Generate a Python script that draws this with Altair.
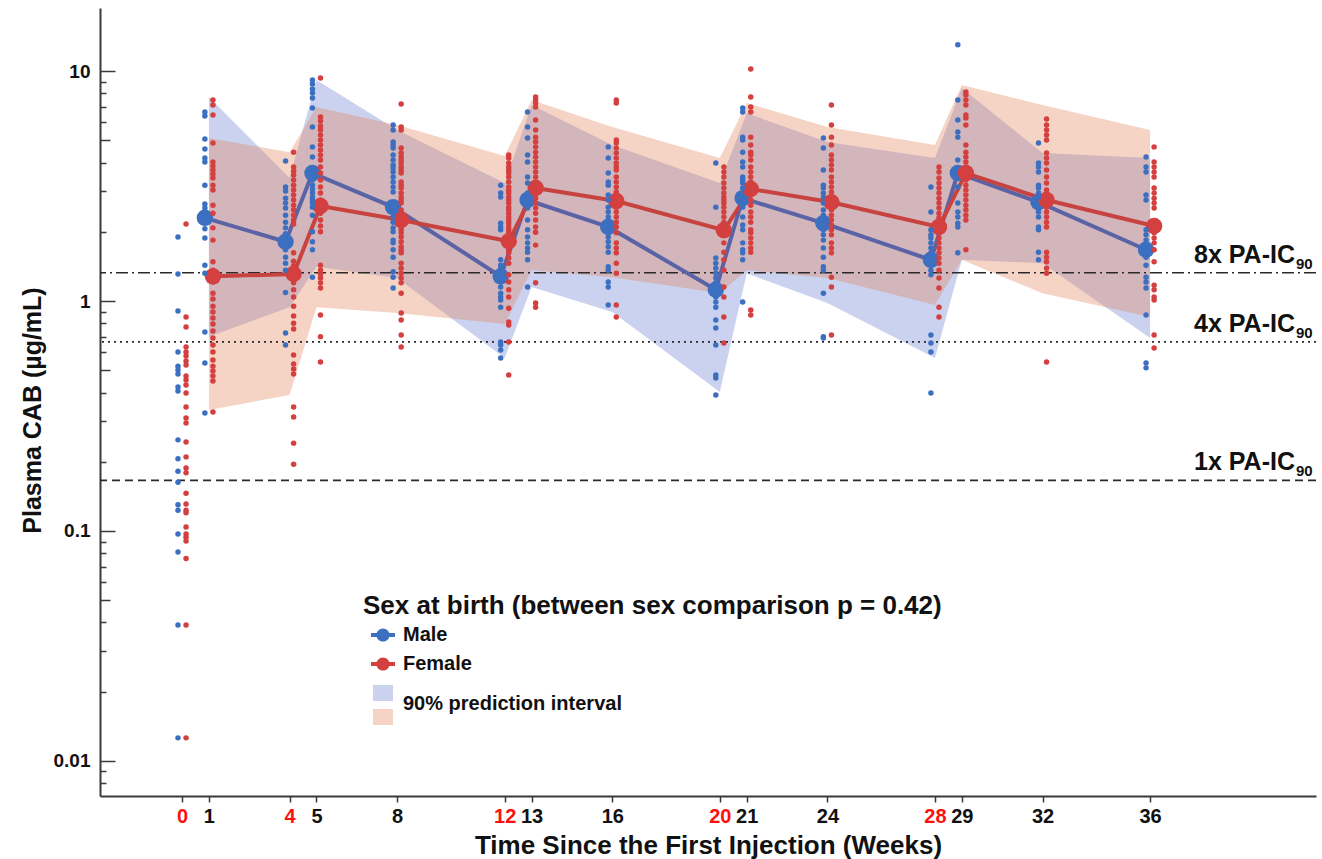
import altair as alt
import pandas as pd

# ------------------------------------------------------------------ data
weeks_obs = [0, 1, 4, 5, 8, 12, 13, 16, 20, 21, 24, 28, 29, 32, 36]

male_w0 = [1.90, 1.31, 0.905, 0.60, 0.521, 0.501, 0.482, 0.423, 0.406, 0.249, 0.206, 0.182, 0.163, 0.130, 0.123, 0.097, 0.081, 0.039, 0.0126]
female_w0 = [2.16, 0.852, 0.771, 0.631, 0.60, 0.577, 0.548, 0.527, 0.472, 0.454, 0.431, 0.398, 0.346, 0.310, 0.295, 0.244, 0.210, 0.188, 0.179, 0.146, 0.131, 0.123, 0.120, 0.104, 0.097, 0.094, 0.0905, 0.076, 0.039, 0.0126]
male_w1 = [6.63, 6.37, 5.06, 4.58, 4.19, 4.02, 3.19, 2.64, 2.54, 2.41, 2.2, 2.06, 1.88, 1.43, 1.32, 0.733, 0.537, 0.326]
female_w1 = [7.48, 7.11, 6.44, 4.86, 4.02, 3.86, 3.71, 3.57, 3.43, 3.19, 3.04, 2.61, 2.41, 2.08, 1.84, 1.48, 1.36, 1.21, 1.08, 1.02, 0.95, 0.896, 0.844, 0.794, 0.741, 0.69, 0.644, 0.60, 0.554, 0.521, 0.496, 0.472, 0.449, 0.329]
male_w4 = [4.06, 3.13, 3.01, 2.80, 2.67, 2.54, 2.36, 2.2, 2.08, 1.96, 1.67, 1.55, 1.46, 1.36, 1.09, 0.726, 0.644]
female_w4 = [4.44, 3.83, 3.67, 3.53, 3.36, 3.19, 3.04, 2.89, 2.75, 2.61, 2.49, 2.36, 2.25, 2.16, 1.62, 1.49, 1.42, 1.35, 1.2, 1.12, 1.04, 0.95, 0.86, 0.80, 0.755, 0.582, 0.532, 0.506, 0.482, 0.346, 0.313, 0.241, 0.195]
male_w5 = [9.14, 8.78, 8.35, 8.02, 7.63, 6.9, 5.71, 4.68, 4.23, 3.36, 3.19, 3.07, 2.95, 2.83, 2.75, 2.67, 2.56, 2.36, 2.0, 1.81, 1.67, 1.27]
female_w5 = [9.33, 6.31, 6.06, 5.77, 5.54, 5.27, 5.01, 4.77, 4.54, 4.31, 4.10, 3.83, 3.60, 3.36, 3.13, 2.95, 2.75, 2.41, 2.25, 2.12, 2.0, 1.43, 1.36, 1.31, 1.26, 1.2, 1.14, 0.87, 0.70, 0.543]
male_w8 = [5.82, 5.54, 4.91, 4.77, 4.63, 4.31, 4.10, 3.90, 3.79, 3.64, 3.46, 3.29, 3.13, 2.98, 2.32, 2.2, 2.08, 2.0, 1.84, 1.79, 1.67, 1.55, 1.34, 1.27, 1.14]
female_w8 = [7.19, 5.71, 5.54, 4.63, 4.40, 4.23, 4.10, 3.98, 3.83, 3.71, 3.60, 3.29, 3.19, 3.10, 2.95, 2.83, 2.75, 2.67, 2.49, 2.18, 2.10, 2.04, 1.98, 1.90, 1.81, 1.72, 1.67, 1.62, 1.46, 1.39, 1.32, 1.26, 1.20, 1.08, 0.887, 0.827, 0.711, 0.631]
male_w12 = [3.19, 2.95, 2.83, 2.18, 2.10, 2.04, 1.51, 1.43, 1.39, 1.34, 1.26, 1.21, 1.15, 1.08, 1.04, 1.01, 0.94, 0.664, 0.644, 0.612, 0.565]
female_w12 = [4.31, 4.19, 3.98, 3.83, 3.71, 3.60, 3.46, 3.29, 3.13, 3.04, 2.95, 2.83, 2.75, 2.67, 2.56, 2.49, 2.41, 2.32, 2.25, 2.18, 2.10, 2.04, 1.98, 1.72, 1.67, 1.62, 1.54, 1.46, 1.30, 1.21, 1.12, 1.04, 0.93, 0.81, 0.787, 0.664, 0.477]
male_w13 = [6.63, 5.71, 5.11, 4.31, 4.02, 3.46, 3.26, 2.95, 2.67, 2.54, 2.25, 2.04, 1.90, 1.79, 1.70, 1.63, 1.51, 1.15]
female_w13 = [7.71, 7.48, 7.26, 6.97, 6.12, 5.54, 5.16, 4.91, 4.68, 4.44, 4.23, 4.02, 3.83, 3.64, 3.46, 3.29, 2.95, 2.80, 2.67, 2.54, 2.41, 2.25, 2.10, 1.99, 1.75, 1.20, 0.98, 0.94]
male_w16 = [4.68, 4.19, 3.60, 3.29, 3.19, 2.89, 2.75, 2.56, 2.44, 2.32, 1.99, 1.90, 1.81, 1.72, 1.63, 1.41, 1.36, 1.21, 1.15, 0.96]
female_w16 = [7.48, 7.26, 5.01, 4.86, 4.63, 4.40, 4.19, 3.98, 3.83, 3.71, 3.46, 3.29, 3.13, 2.98, 2.83, 2.56, 2.44, 2.32, 2.20, 2.10, 1.98, 1.79, 1.70, 1.62, 1.46, 1.32, 0.96, 0.852]
male_w20 = [3.98, 2.56, 1.54, 1.46, 1.39, 1.32, 1.26, 1.20, 1.04, 0.99, 0.94, 0.827, 0.763, 0.644, 0.477, 0.463, 0.390]
female_w20 = [3.83, 3.64, 3.46, 3.26, 3.10, 2.95, 2.83, 2.75, 2.67, 2.56, 2.44, 2.32, 2.20, 2.10, 1.94, 1.79, 1.63, 1.51, 1.36, 1.15, 1.04, 0.852, 0.657]
male_w21 = [6.90, 6.63, 5.16, 5.01, 4.44, 4.02, 3.83, 3.46, 3.36, 3.26, 3.10, 2.56, 2.32, 2.14, 2.04, 1.79, 1.67, 1.62, 1.51, 0.99]
female_w21 = [10.2, 7.71, 6.97, 6.63, 5.16, 4.77, 4.44, 4.31, 4.10, 3.83, 3.64, 3.46, 3.29, 2.89, 2.75, 2.61, 2.44, 2.32, 2.20, 2.04, 1.98, 1.88, 1.79, 1.70, 1.63, 0.914, 0.869]
male_w24 = [5.11, 4.63, 3.71, 3.19, 3.10, 2.95, 2.83, 2.67, 2.49, 2.36, 2.25, 2.04, 1.94, 1.84, 1.70, 1.55, 1.41, 1.36, 1.08, 0.70, 0.69]
female_w24 = [7.11, 5.82, 5.16, 4.77, 4.31, 4.10, 3.90, 3.71, 3.46, 3.29, 3.13, 2.98, 2.83, 2.49, 2.36, 2.25, 2.14, 2.04, 1.94, 1.79, 1.70, 1.62, 1.27, 1.15, 0.712]
male_w28 = [3.13, 2.44, 2.04, 1.94, 1.88, 1.79, 1.70, 1.62, 1.43, 1.36, 1.30, 0.712, 0.657, 0.60, 0.398]
female_w28 = [3.83, 3.64, 3.43, 3.26, 3.10, 2.95, 2.80, 2.67, 2.54, 2.41, 2.30, 1.98, 1.88, 1.79, 1.70, 1.62, 1.54, 1.46, 1.36, 1.26, 1.14, 0.94, 0.852]
male_w29 = [13.0, 7.48, 6.12, 5.43, 5.16, 4.10, 3.13, 2.67, 2.44, 2.32, 2.18, 2.10, 1.62]
female_w29 = [8.11, 7.86, 7.48, 7.11, 6.44, 6.25, 5.82, 4.77, 4.44, 4.23, 4.02, 3.83, 3.36, 3.19, 3.04, 2.89, 2.75, 2.61, 2.49, 2.36, 2.25, 1.67]
male_w32 = [4.86, 3.98, 3.83, 3.64, 3.19, 3.10, 2.95, 2.83, 2.44, 2.32, 2.10, 2.04, 1.63, 1.51]
female_w32 = [6.18, 5.82, 5.54, 5.27, 5.01, 4.40, 4.19, 3.98, 3.71, 3.46, 3.26, 3.04, 2.89, 2.56, 2.44, 2.32, 2.20, 2.10, 1.63, 1.55, 1.48, 1.39, 1.32, 0.543]
male_w36 = [4.23, 3.83, 3.64, 2.89, 2.75, 2.04, 1.94, 1.84, 1.75, 1.55, 1.43, 1.27, 1.21, 1.14, 0.87, 0.537, 0.512]
female_w36 = [4.68, 4.02, 3.83, 3.64, 3.46, 3.10, 2.95, 2.80, 2.67, 2.54, 1.98, 1.88, 1.79, 1.67, 1.48, 1.17, 1.12, 1.04, 1.01, 0.712, 0.625]

weeks_pk = [1, 4, 5, 8, 12, 13, 16, 20, 21, 24, 28, 29, 32, 36]
male_mean = [2.30, 1.81, 3.60, 2.56, 1.28, 2.75, 2.10, 1.12, 2.80, 2.18, 1.51, 3.60, 2.69, 1.67]
female_mean = [1.28, 1.31, 2.59, 2.25, 1.82, 3.10, 2.72, 2.03, 3.07, 2.69, 2.10, 3.60, 2.75, 2.12]

male_pi_hi = [7.71, 3.43, 9.14, 5.54, 3.26, 7.11, 4.77, 3.26, 6.56, 4.91, 4.19, 8.43, 4.40, 4.19]
male_pi_lo = [0.70, 0.94, 1.41, 1.26, 0.565, 1.15, 0.896, 0.402, 1.32, 0.98, 0.565, 1.51, 1.46, 0.69]
female_pi_hi = [5.11, 4.44, 6.97, 5.82, 4.27, 7.48, 5.71, 4.19, 7.26, 5.71, 4.77, 8.69, 7.11, 5.54]
female_pi_lo = [0.336, 0.39, 0.94, 0.887, 0.794, 1.36, 1.27, 1.08, 1.36, 1.26, 0.96, 1.51, 1.08, 0.852]

thr_values = [1.328, 0.664, 0.166]
thr_names = ["8x", "4x", "1x"]
thr_labels = ["8x PA-IC", "4x PA-IC", "1x PA-IC"]

x_ticks = [0, 1, 4, 5, 8, 12, 13, 16, 20, 21, 24, 28, 29, 32, 36]
x_red_ticks = [0, 4, 12, 20, 28]
y_major = [0.01, 0.1, 1, 10]
y_half = [0.05, 0.5, 5]
y_minor = [0.008, 0.009, 0.02, 0.03, 0.04, 0.06, 0.07, 0.08, 0.09,
           0.2, 0.3, 0.4, 0.6, 0.7, 0.8, 0.9, 2, 3, 4, 6, 7, 8, 9]

# ------------------------------------------------------------------ styles
DODGE = 0.15
FONT = "Liberation Sans"
MALE_DOT = "#3d6fc1"
FEMALE_DOT = "#d43f3f"
MALE_LINE = "#5a63a6"
FEMALE_LINE = "#c7433f"
MALE_BAND = "#6a7ed4"
FEMALE_BAND = "#e28459"
AXIS_COL = "#3a3a3a"

male_lists = [male_w0, male_w1, male_w4, male_w5, male_w8, male_w12, male_w13, male_w16,
              male_w20, male_w21, male_w24, male_w28, male_w29, male_w32, male_w36]
female_lists = [female_w0, female_w1, female_w4, female_w5, female_w8, female_w12, female_w13,
                female_w16, female_w20, female_w21, female_w24, female_w28, female_w29,
                female_w32, female_w36]

obs_m = pd.DataFrame([{"x": w - DODGE, "conc": v} for w, vals in zip(weeks_obs, male_lists) for v in vals])
obs_f = pd.DataFrame([{"x": w + DODGE, "conc": v} for w, vals in zip(weeks_obs, female_lists) for v in vals])

mean_m = pd.DataFrame({"x": [w - DODGE for w in weeks_pk], "mean": male_mean, "sex": "Male"})
mean_f = pd.DataFrame({"x": [w + DODGE for w in weeks_pk], "mean": female_mean, "sex": "Female"})
means = pd.concat([mean_m, mean_f], ignore_index=True)
band_m = pd.DataFrame({"week": weeks_pk, "lo": male_pi_lo, "hi": male_pi_hi, "band": "Male PI"})
band_f = pd.DataFrame({"week": weeks_pk, "lo": female_pi_lo, "hi": female_pi_hi, "band": "Female PI"})
thr = pd.DataFrame({"value": thr_values, "level": thr_names, "label": thr_labels, "sub": ["90"] * 3})

W, H = 1216, 788
x_scale = alt.Scale(domain=[-3.05, 42.17], nice=False, zero=False)
y_scale = alt.Scale(type="log", domain=[0.00704, 18.8], nice=False)

red_test = "indexof(" + str(x_red_ticks) + ", datum.value) >= 0"
x_axis = alt.Axis(
    values=x_ticks, title="Time Since the First Injection (Weeks)", grid=False,
    domainColor=AXIS_COL, domainWidth=2, tickColor=AXIS_COL, tickWidth=1.5, tickSize=6,
    labelFont=FONT, labelFontSize=20, labelFontWeight="bold", labelPadding=4,
    labelOverlap=False, labelFlush=False,
    labelColor={"condition": {"test": red_test, "value": "#ff1010"}, "value": "#111111"},
    titleFont=FONT, titleFontSize=26, titleFontWeight="bold", titleColor="#111111",
    titleY=49, titleBaseline="middle",
)
y_axis_major = alt.Axis(
    values=y_major, orient="left", grid=False, format="~g",
    title="Plasma CAB (µg/mL)", titleFont=FONT, titleFontSize=25, titleFontWeight="bold",
    titleColor="#111111", titleX=-68, titleY=402, titleAngle=-90, titleAlign="center",
    titleBaseline="middle",
    domainColor=AXIS_COL, domainWidth=2, tickColor=AXIS_COL, tickWidth=1.5,
    tickSize={"expr": "-15"}, labelPadding=25,
    labelFont=FONT, labelFontSize=19, labelFontWeight="bold", labelColor="#111111",
)
y_axis_half = alt.Axis(values=y_half, orient="left", grid=False, title=None, labels=False,
                       domain=False, tickColor=AXIS_COL, tickWidth=1.5, tickSize={"expr": "-10"})
y_axis_minor = alt.Axis(values=y_minor, orient="left", grid=False, title=None, labels=False,
                        domain=False, tickColor=AXIS_COL, tickWidth=1.5, tickSize={"expr": "-6"})

X = alt.X("x:Q", scale=x_scale, axis=x_axis)

band_scale = alt.Scale(domain=["Male PI", "Female PI"], range=[MALE_BAND, FEMALE_BAND])
legend_pi = alt.Legend(
    orient="none", legendX=273, legendY=675, padding=0,
    title="90% prediction interval", titleOrient="right", titleAnchor="middle",
    titleBaseline="middle", titlePadding=10, titleFont=FONT, titleFontSize=20,
    titleFontWeight="bold", titleColor="#111111", titleLimit=1000,
    labelExpr="''", labelFontSize=1, labelOffset=0,
    symbolType="M-1,-0.8H1V0.8H-1Z", symbolSize=400, symbolStrokeWidth=0,
    symbolOpacity=0.35, rowPadding=6,
)

layer_band_m = alt.Chart(band_m).mark_area(opacity=0.35).encode(
    x=alt.X("week:Q", scale=x_scale, axis=x_axis),
    y=alt.Y("lo:Q", scale=y_scale, axis=y_axis_major),
    y2="hi:Q",
    color=alt.Color("band:N", scale=band_scale, legend=legend_pi),
)
layer_band_f = alt.Chart(band_f).mark_area(opacity=0.35).encode(
    x=alt.X("week:Q", scale=x_scale, axis=x_axis),
    y=alt.Y("lo:Q", scale=y_scale, axis=None),
    y2="hi:Q",
    color=alt.Color("band:N", scale=band_scale, legend=legend_pi),
)

layer_rules = alt.Chart(thr).mark_rule(color="#2a2a2a", strokeWidth=1.6).encode(
    y=alt.Y("value:Q", scale=y_scale, axis=y_axis_half),
    strokeDash=alt.StrokeDash("level:N", scale=alt.Scale(
        domain=["8x", "4x", "1x"], range=[[12, 4, 2, 4], [2, 4], [8, 5]]), legend=None),
)

layer_line_m = alt.Chart(mean_m).mark_line(strokeWidth=4, color=MALE_LINE).encode(
    x=X, y=alt.Y("mean:Q", scale=y_scale, axis=None),
)
layer_line_f = alt.Chart(mean_f).mark_line(strokeWidth=4, color=FEMALE_LINE).encode(
    x=X, y=alt.Y("mean:Q", scale=y_scale, axis=None),
)

legend_sex = alt.Legend(
    orient="none", legendX=263, legendY=585, padding=0,
    title="Sex at birth (between sex comparison p = 0.42)", titleFont=FONT, titleFontSize=26,
    titleFontWeight="bold", titleColor="#111111", titleLimit=1000, titlePadding=4,
    labelFont=FONT, labelFontSize=20, labelFontWeight="bold", labelColor="#111111",
    labelOffset=8, symbolOffset=8,
    symbolType="M-1,-0.17H1V0.17H-1Z M0.55,0A0.55,0.55 0 1,1 -0.55,0A0.55,0.55 0 1,1 0.55,0Z",
    symbolSize=576, symbolStrokeWidth=0, symbolOpacity=1, rowPadding=7,
)
dot_scale = alt.Scale(domain=["Male", "Female"], range=[MALE_DOT, FEMALE_DOT])
layer_big = alt.Chart(means).mark_circle(size=270, opacity=1).encode(
    x=X, y=alt.Y("mean:Q", scale=y_scale, axis=None),
    fill=alt.Fill("sex:N", scale=dot_scale, legend=legend_sex),
)

layer_obs_m = alt.Chart(obs_m).mark_circle(size=30, opacity=1, color=MALE_DOT).encode(
    x=X, y=alt.Y("conc:Q", scale=y_scale, axis=None),
)
layer_obs_f = alt.Chart(obs_f).mark_circle(size=30, opacity=1, color=FEMALE_DOT).encode(
    x=X, y=alt.Y("conc:Q", scale=y_scale, axis=None),
)

layer_lab = alt.Chart(thr).mark_text(
    align="right", baseline="alphabetic", dy=-10, font=FONT, fontSize=25,
    fontWeight="bold", color="#111111",
).encode(
    x=alt.value(1195),
    y=alt.Y("value:Q", scale=y_scale, axis=y_axis_minor),
    text="label:N",
)
layer_sub = alt.Chart(thr).mark_text(
    align="left", baseline="alphabetic", dy=-4, font=FONT, fontSize=15,
    fontWeight="bold", color="#111111",
).encode(
    x=alt.value(1196),
    y=alt.Y("value:Q", scale=y_scale, axis=None),
    text="sub:N",
)

chart = alt.layer(
    layer_band_m, layer_band_f, layer_rules, layer_line_m, layer_line_f, layer_big,
    layer_obs_m, layer_obs_f, layer_lab, layer_sub,
).resolve_axis(y="independent").properties(
    width=W, height=H,
    padding={"left": 100, "top": 8, "right": 6, "bottom": 63},
    autosize=alt.AutoSizeParams(type="none"),
).configure_view(stroke=None)

chart.save("out.html", embed_options={"renderer": "svg", "actions": False})
